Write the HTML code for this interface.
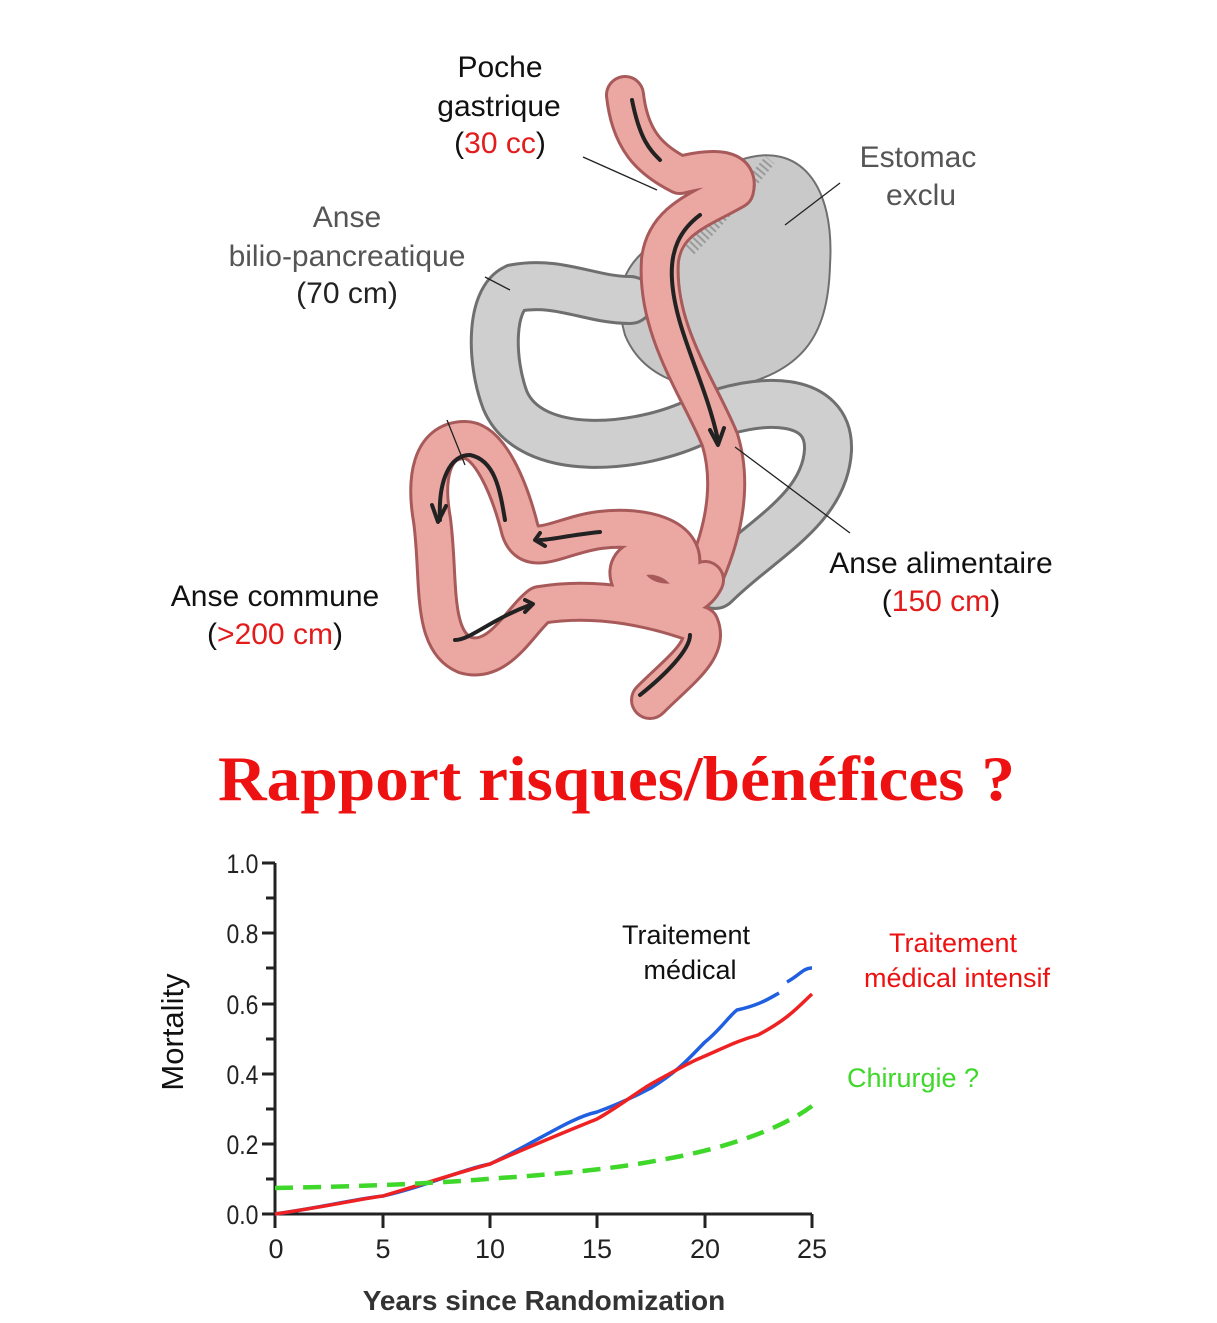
<!DOCTYPE html>
<html><head><meta charset="utf-8"><style>
html,body{margin:0;padding:0;background:#fff}
svg{display:block}
</style></head><body>
<svg width="1217" height="1323" viewBox="0 0 1217 1323" xmlns="http://www.w3.org/2000/svg" font-family="Liberation Sans, sans-serif">
<!-- gray stomach -->
<path d="M640,255 C665,225 700,215 740,160 C800,140 835,185 830,265 C828,340 800,372 730,388 C680,392 640,372 625,335 C615,300 620,275 640,255 Z" fill="#c9c9c9" stroke="#6f6f6f" stroke-width="2"/>
<path d="M690,250 C720,220 745,190 770,160" fill="none" stroke="#9a9a9a" stroke-width="12" stroke-dasharray="2 3"/>
<!-- gray bilio limb -->
<path d="M630,300 C590,300 560,280 515,288 C490,300 490,360 505,400 C530,460 640,450 700,420 C760,395 830,395 828,450 C825,510 760,540 715,585" fill="none" stroke="#6f6f6f" stroke-width="50" stroke-linecap="round"/>
<path d="M630,300 C590,300 560,280 515,288 C490,300 490,360 505,400 C530,460 640,450 700,420 C760,395 830,395 828,450 C825,510 760,540 715,585" fill="none" stroke="#cfcfcf" stroke-width="44" stroke-linecap="round"/>
<!-- pink tubes -->
<g fill="none" stroke-linecap="round" stroke-linejoin="round">
<path d="M625,95 C630,140 650,160 680,175 C720,165 740,170 735,190 C700,210 665,220 660,260 C655,330 700,390 720,440 C735,490 720,540 705,575" stroke="#a85a5a" stroke-width="40"/>
<path d="M625,95 C630,140 650,160 680,175 C720,165 740,170 735,190 C700,210 665,220 660,260 C655,330 700,390 720,440 C735,490 720,540 705,575" stroke="#eba8a2" stroke-width="34"/>
<path d="M705,580 C690,610 640,605 630,580 C620,555 660,550 680,570 C690,535 640,525 600,530 C560,535 530,560 520,530 C510,490 490,440 465,440 C430,440 425,480 432,520 C440,580 430,640 465,655 C500,665 520,620 540,605 C600,595 660,610 700,625 C710,650 680,670 650,700" stroke="#a85a5a" stroke-width="40"/>
<path d="M705,580 C690,610 640,605 630,580 C620,555 660,550 680,570 C690,535 640,525 600,530 C560,535 530,560 520,530 C510,490 490,440 465,440 C430,440 425,480 432,520 C440,580 430,640 465,655 C500,665 520,620 540,605 C600,595 660,610 700,625 C710,650 680,670 650,700" stroke="#eba8a2" stroke-width="34"/>
<path d="M632,100 C640,140 650,150 660,160 M700,215 C680,230 670,250 672,280 C675,330 705,380 718,440" stroke="#222" stroke-width="4"/>
<path d="M600,532 C570,535 550,540 540,540 M440,520 C438,480 450,455 470,455 C495,460 500,490 505,520 M455,640 C470,640 490,620 530,605 M640,695 C665,675 690,650 690,635" stroke="#222" stroke-width="4"/>
<path d="M710,430 L718,445 L724,428 M540,533 L535,540 L545,546 M432,505 L438,522 L446,506 M525,600 L533,604 L525,612" stroke="#222" stroke-width="4"/>
</g>
<!-- leader lines -->
<g stroke="#222" stroke-width="1.3">
<line x1="583" y1="157" x2="657" y2="190"/>
<line x1="840" y1="183" x2="785" y2="225"/>
<line x1="485" y1="277" x2="510" y2="290"/>
<line x1="735" y1="447" x2="850" y2="533"/>
<line x1="447" y1="420" x2="465" y2="465"/>
</g>
<!-- labels -->
<g font-size="30" text-anchor="middle">
<text x="500" y="77" fill="#111">Poche</text>
<text x="499" y="116" fill="#111">gastrique</text>
<text x="500" y="153" fill="#111">(<tspan fill="#e31b1b">30 cc</tspan>)</text>
<text x="918" y="167" fill="#555">Estomac</text>
<text x="921" y="205" fill="#555">exclu</text>
<text x="347" y="227" fill="#555">Anse</text>
<text x="347" y="266" fill="#555">bilio-pancreatique</text>
<text x="347" y="303" fill="#222">(70 cm)</text>
<text x="941" y="573" fill="#111">Anse alimentaire</text>
<text x="941" y="611" fill="#111">(<tspan fill="#e31b1b">150 cm</tspan>)</text>
<text x="275" y="606" fill="#111">Anse commune</text>
<text x="275" y="644" fill="#111">(<tspan fill="#e31b1b">&gt;200 cm</tspan>)</text>
</g>
<text x="218" y="800" font-family="Liberation Serif, serif" font-weight="bold" font-size="64" fill="#ee1111" textLength="797" lengthAdjust="spacingAndGlyphs">Rapport risques/bénéfices ?</text>
<!-- chart axes -->
<g stroke="#222" stroke-width="3" fill="none">
<path d="M275,863 L275,1214 L812,1214"/>
<path d="M262,863H275M262,933H275M262,1004H275M262,1074H275M262,1144H275M262,1214H275"/>
<path d="M266,898H275M266,968H275M266,1039H275M266,1109H275M266,1179H275"/>
<path d="M383,1214V1228M490,1214V1228M597,1214V1228M705,1214V1228M812,1214V1228M275,1214V1228"/>
</g>
<g font-size="27" fill="#222" text-anchor="end" transform="scale(0.85,1)">
<text x="304" y="873">1.0</text><text x="304" y="943">0.8</text><text x="304" y="1014">0.6</text><text x="304" y="1084">0.4</text><text x="304" y="1154">0.2</text><text x="304" y="1224">0.0</text>
</g>
<g font-size="27" fill="#222" text-anchor="middle">
<text x="276" y="1258">0</text><text x="383" y="1258">5</text><text x="490" y="1258">10</text><text x="597" y="1258">15</text><text x="705" y="1258">20</text><text x="812" y="1258">25</text>
</g>
<text transform="translate(183,1032) rotate(-90)" font-size="31" text-anchor="middle" fill="#111">Mortality</text>
<text x="544" y="1310" font-size="28" font-weight="bold" fill="#333" text-anchor="middle">Years since Randomization</text>
<!-- curves -->
<path d="M275,1214 C330,1206 360,1198 383,1196 C430,1185 460,1170 490,1164 C540,1140 570,1118 597,1112 C630,1100 640,1093 651,1088 C680,1070 690,1057 705,1042 C720,1030 730,1015 737,1010 C760,1005 770,998 779,993 M787,982 C800,975 803,968 812,968" fill="none" stroke="#1f5fe0" stroke-width="3.5"/>
<path d="M275,1214 C330,1206 360,1199 383,1196 C430,1182 460,1172 490,1164 C540,1142 570,1130 597,1119 C620,1106 640,1090 651,1084 C680,1068 690,1062 705,1056 C730,1045 740,1040 758,1035 C790,1018 800,1005 812,994" fill="none" stroke="#ee2222" stroke-width="3.5"/>
<path d="M275,1188 C380,1186 440,1183 500,1178 C560,1174 620,1168 660,1160 C720,1150 780,1130 812,1106" fill="none" stroke="#3fd82a" stroke-width="4.5" stroke-dasharray="18 10"/>
<g font-size="27" text-anchor="middle">
<text x="686" y="944" fill="#111">Traitement</text>
<text x="690" y="979" fill="#111">médical</text>
<text x="953" y="952" fill="#ee1111">Traitement</text>
<text x="957" y="987" fill="#ee1111">médical intensif</text>
<text x="913" y="1087" fill="#3fd82a">Chirurgie ?</text>
</g>
</svg>
</body></html>
